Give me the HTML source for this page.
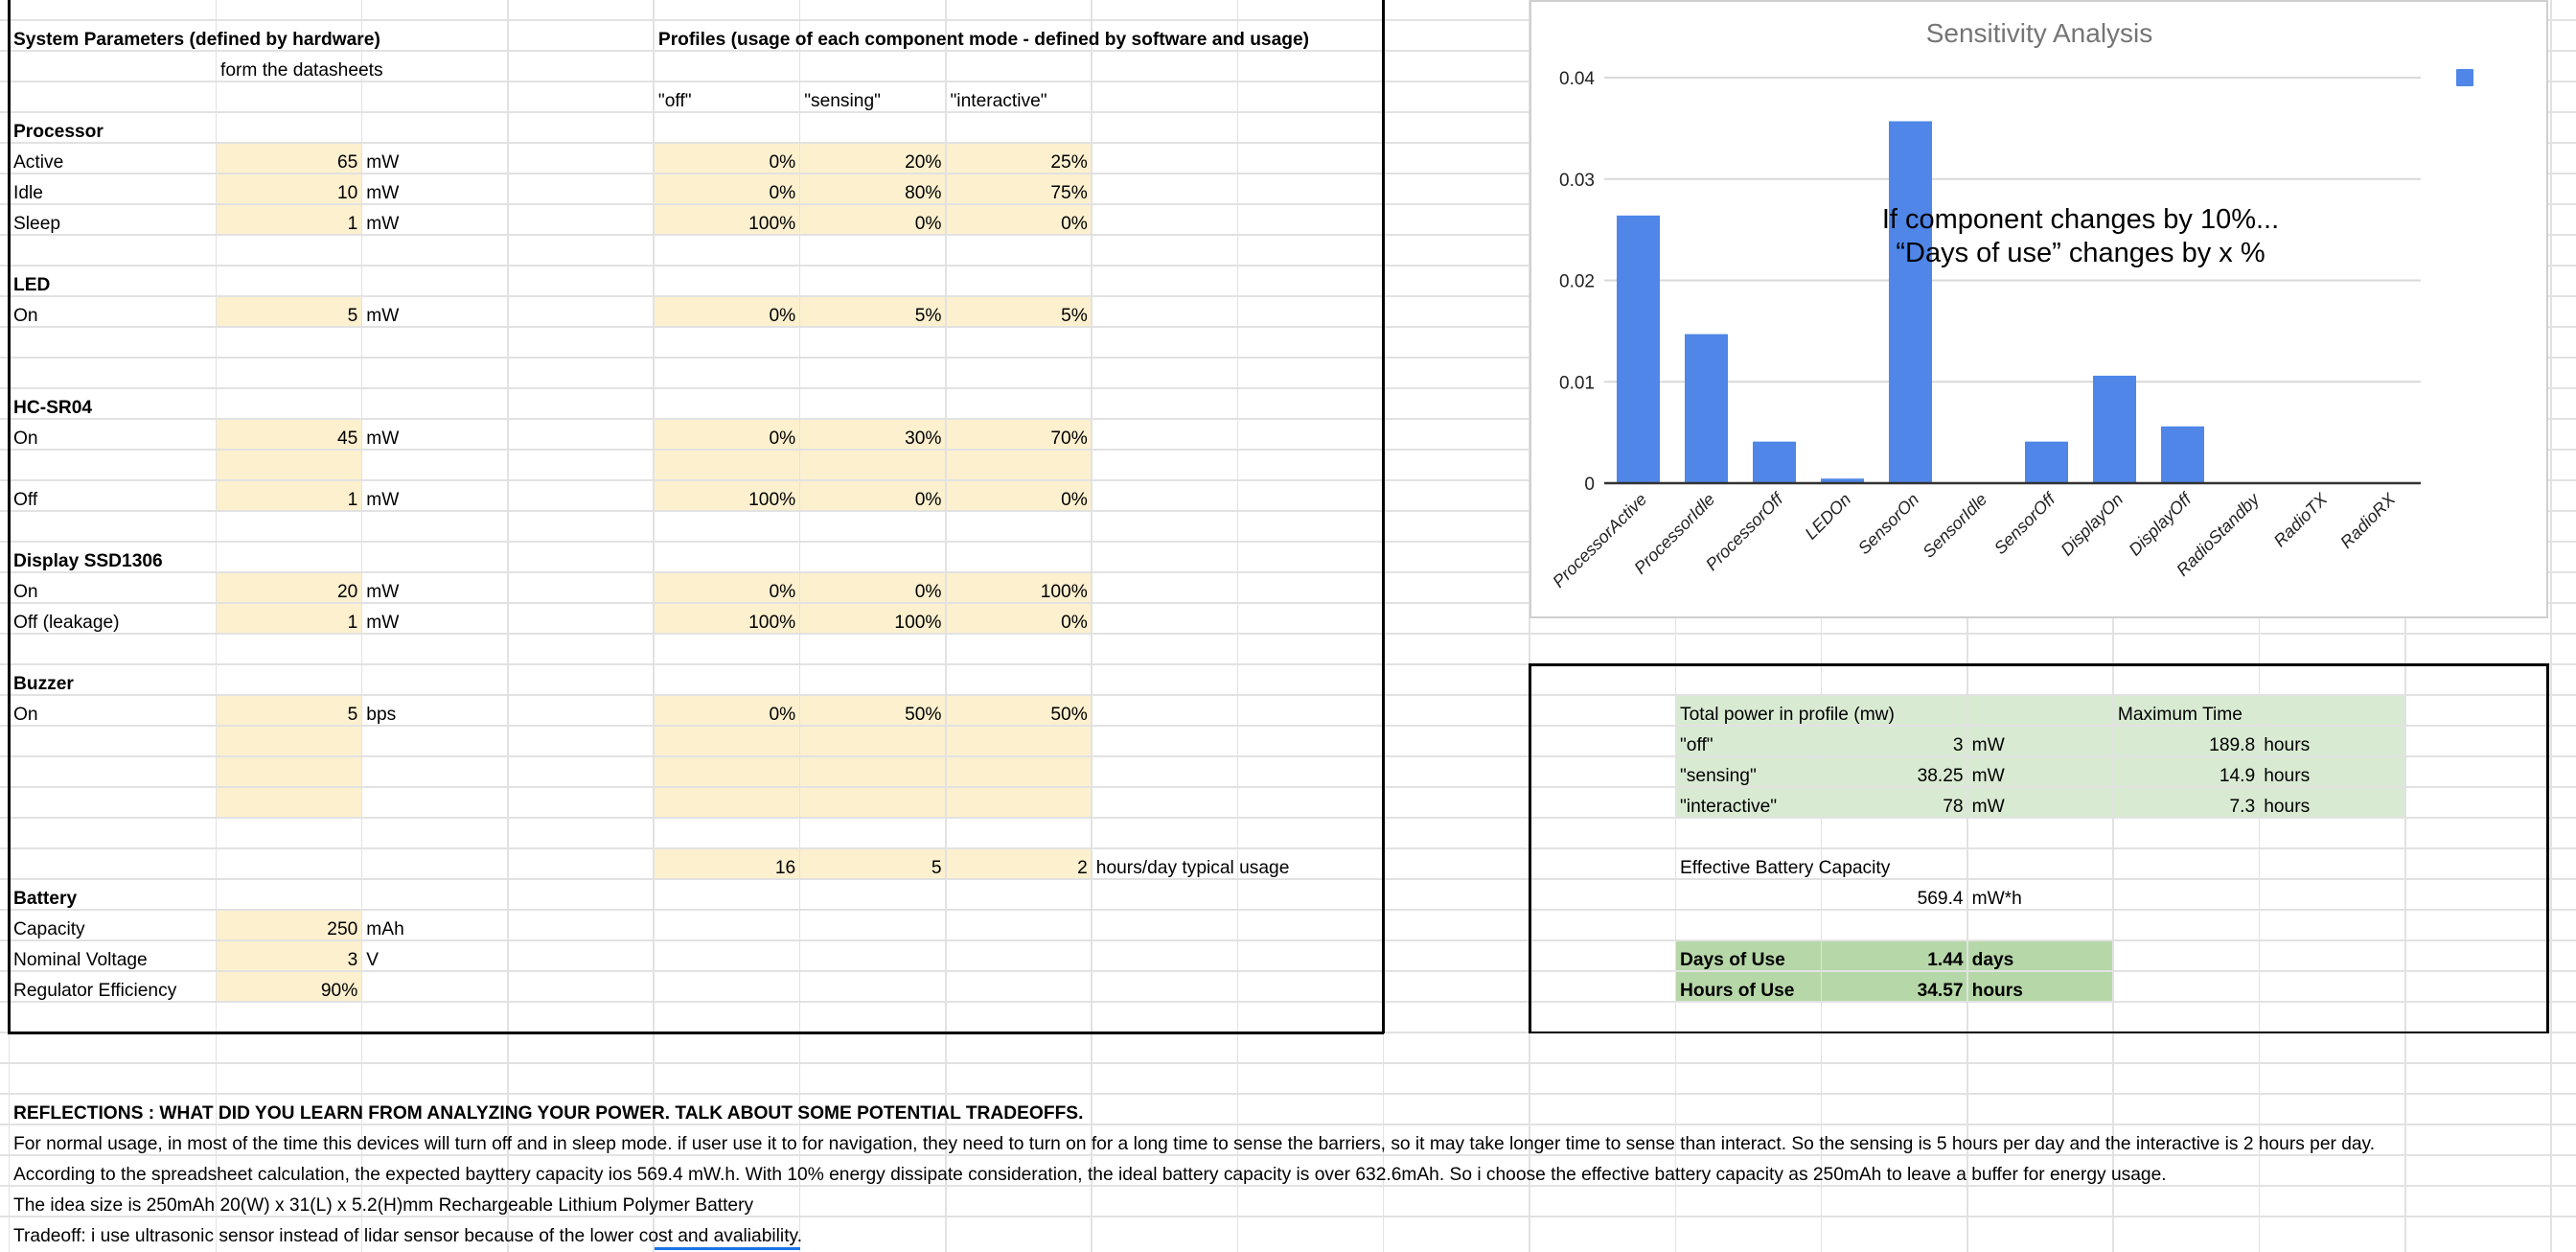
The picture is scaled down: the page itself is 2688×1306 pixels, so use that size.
<!DOCTYPE html>
<html><head><meta charset="utf-8">
<style>
html,body{margin:0;padding:0;background:#fff;}
body{width:2688px;height:1306px;position:relative;overflow:hidden;font-family:"Liberation Sans",Arial,sans-serif;}
.ln{position:absolute;background:#e2e2e2;}
.fill{position:absolute;}
.c{position:absolute;height:32px;line-height:32px;font-size:19.2px;color:#000;white-space:nowrap;padding-top:5px;box-sizing:border-box;}
.b{font-weight:bold;}
</style></head>
<body>
<div id="sheet"></div>
<svg id="chart" style="position:absolute;left:1596px;top:0;" width="1063" height="646" viewBox="1596 0 1063 646"></svg>
<script>
const CW=152.3;
function colX(c){return c===0?9:225+CW*(c-1);}
function colW(c){return c===0?216:CW;}
function rowY(r){return 20.7+32*r;}
const sheet=document.getElementById('sheet');
function div(cls,l,t,w,h,bg,name){
  const d=document.createElement('div');
  d.className=cls;
  d.style.left=l+'px';d.style.top=t+'px';
  if(w!=null)d.style.width=w+'px';
  if(h!=null)d.style.height=h+'px';
  if(bg)d.style.background=bg;
  
  
  sheet.appendChild(d);return d;
}
const yellowB=[4,5,6,9,13,14,15,18,19,22,23,24,25,29,30,31];
const yellowP=[4,5,6,9,13,14,15,18,19,22,23,24,25,27];
yellowB.forEach(r=>div('fill',colX(1),rowY(r),CW,32,'#fcf0cf','input-cell-fill'));
yellowP.forEach(r=>div('fill',colX(4),rowY(r),CW*3,32,'#fcf0cf','profile-cell-fill'));
[22,23,24,25].forEach(r=>div('fill',colX(11),rowY(r),CW*5,32,'#d9ead3','result-cell-fill'));
[30,31].forEach(r=>div('fill',colX(11),rowY(r),CW*3,32,'#b6d7a8','summary-cell-fill'));
for(let r=-1;r<40;r++){div('ln',0,rowY(r)-1,2688,2,null,'row-line');}
for(let c=0;c<19;c++){div('ln',colX(c)-0.5,0,1.5,1306,null,'column-line');}
div('fill',8,0,2.5,1078,'#000','box-left-border');
div('fill',1442,0,2.5,1078,'#000','box-right-border');
div('fill',8,1076,1436,2.5,'#000','box-bottom-border');
div('fill',1595,692,2.5,386,'#000','results-box-left');
div('fill',2657,692,2.5,386,'#000','results-box-right');
div('fill',1595,692,1064,2.5,'#000','results-box-top');
div('fill',1595,1075.5,1064,2.5,'#000','results-box-bottom');
div('fill',683,1301,152,3,'#1a73e8','selected-cell');
function cell(col,row,text,align,bold,name){
  const d=div('c'+(bold?' b':''),colX(col),rowY(row),colW(col),null,null,name);
  if(align==='r'){d.style.textAlign='right';d.style.paddingRight='4px';}
  else{d.style.paddingLeft='5px';}
  d.textContent=text;
}
cell(0,0,'System Parameters (defined by hardware)','l',1,'system-parameters-header');
cell(4,0,'Profiles (usage of each component mode - defined by software and usage)','l',1,'profiles-header');
cell(1,1,'form the datasheets','l',0,'datasheet-note');
cell(4,2,'"off"','l',0,'profile-off-header');
cell(5,2,'"sensing"','l',0,'profile-sensing-header');
cell(6,2,'"interactive"','l',0,'profile-interactive-header');
const rows=[
 [3,'Processor',1],[4,'Active',0,'65','mW',['0%','20%','25%']],[5,'Idle',0,'10','mW',['0%','80%','75%']],
 [6,'Sleep',0,'1','mW',['100%','0%','0%']],[8,'LED',1],[9,'On',0,'5','mW',['0%','5%','5%']],
 [12,'HC-SR04',1],[13,'On',0,'45','mW',['0%','30%','70%']],[15,'Off',0,'1','mW',['100%','0%','0%']],
 [17,'Display SSD1306',1],[18,'On',0,'20','mW',['0%','0%','100%']],[19,'Off (leakage)',0,'1','mW',['100%','100%','0%']],
 [21,'Buzzer',1],[22,'On',0,'5','bps',['0%','50%','50%']],
 [28,'Battery',1],[29,'Capacity',0,'250','mAh'],[30,'Nominal Voltage',0,'3','V'],[31,'Regulator Efficiency',0,'90%','']
];
rows.forEach(x=>{
  cell(0,x[0],x[1],'l',x[2],'row-label');
  if(x[3]!=null){cell(1,x[0],x[3],'r',0,'param-value');cell(2,x[0],x[4],'l',0,'param-unit');}
  if(x[5]){x[5].forEach((v,i)=>cell(4+i,x[0],v,'r',0,'profile-percent'));}
});
cell(4,27,'16','r',0,'hours-off');cell(5,27,'5','r',0,'hours-sensing');cell(6,27,'2','r',0,'hours-interactive');
cell(7,27,'hours/day typical usage','l',0,'hours-note');
cell(11,22,'Total power in profile (mw)','l',0,'total-power-header');
cell(14,22,'Maximum Time','l',0,'max-time-header');
[[23,'"off"','3','189.8'],[24,'"sensing"','38.25','14.9'],[25,'"interactive"','78','7.3']].forEach(x=>{
  cell(11,x[0],x[1],'l',0,'profile-name');cell(12,x[0],x[2],'r',0,'profile-power');cell(13,x[0],'mW','l',0,'power-unit');
  cell(14,x[0],x[3],'r',0,'max-time');cell(15,x[0],'hours','l',0,'time-unit');
});
cell(11,27,'Effective Battery Capacity','l',0,'effective-capacity-label');
cell(12,28,'569.4','r',0,'effective-capacity-value');cell(13,28,'mW*h','l',0,'capacity-unit');
cell(11,30,'Days of Use','l',1,'days-of-use-label');cell(12,30,'1.44','r',1,'days-of-use-value');cell(13,30,'days','l',1,'days-unit');
cell(11,31,'Hours of Use','l',1,'hours-of-use-label');cell(12,31,'34.57','r',1,'hours-of-use-value');cell(13,31,'hours','l',1,'hours-unit');
cell(0,35,'REFLECTIONS : WHAT DID YOU LEARN FROM ANALYZING YOUR POWER.  TALK ABOUT SOME POTENTIAL TRADEOFFS.','l',1,'reflections-header');
cell(0,36,'For normal usage, in most of the time this devices will turn off and in sleep mode. if user use it to for navigation, they need to turn on for a long time to sense the barriers, so it may take longer time to sense than interact. So the sensing is 5 hours per day and the interactive is 2 hours per day.','l',0,'reflection-line');
cell(0,37,'According to the spreadsheet calculation, the expected bayttery capacity ios 569.4 mW.h. With 10% energy dissipate consideration, the ideal battery capacity is over 632.6mAh. So i choose the effective battery capacity as 250mAh to leave a buffer for energy usage.','l',0,'reflection-line');
cell(0,38,'The idea size is 250mAh 20(W) x 31(L) x 5.2(H)mm Rechargeable Lithium Polymer Battery','l',0,'reflection-line');
cell(0,39,'Tradeoff: i use ultrasonic sensor instead of lidar sensor because of the lower cost and avaliability.','l',0,'reflection-line');
</script>
<script>
const categories=['ProcessorActive','ProcessorIdle','ProcessorOff','LEDOn','SensorOn','SensorIdle','SensorOff','DisplayOn','DisplayOff','RadioStandby','RadioTX','RadioRX'];
const values=[0.0264,0.0147,0.0041,0.00045,0.0357,0,0.0041,0.0106,0.0056,0,0,0];
const yTicks=[0,0.01,0.02,0.03,0.04];
const yTickLabels=['0','0.01','0.02','0.03','0.04'];
const NS='http://www.w3.org/2000/svg';
const svg=document.getElementById('chart');
const PL=1674,PR=2526,Y0=504,Y4=81;
function yS(v){return Y0-(v/0.04)*(Y0-Y4);}
function xS(i){return PL+(PR-PL)/categories.length*(i+0.5);}
function el(tag,attrs){const e=document.createElementNS(NS,tag);for(const k in attrs)e.setAttribute(k,attrs[k]);svg.appendChild(e);return e;}
let e=el('rect',{x:1597,y:1,width:1061,height:643,fill:'#fff',stroke:'#cfcfcf','stroke-width':2});


e=el('text',{x:2128,y:44,'text-anchor':'middle','font-size':28,fill:'#757575','font-family':'Liberation Sans, sans-serif'});
e.textContent='Sensitivity Analysis';


yTicks.forEach((t,i)=>{
  if(i>0){const g=el('line',{x1:PL,x2:PR,y1:yS(t),y2:yS(t),stroke:'#d9d9d9','stroke-width':2});
  
  }
  const l=el('text',{x:1664,y:yS(t)+7,'text-anchor':'end','font-size':19,fill:'#222','font-family':'Liberation Sans, sans-serif'});
  l.textContent=yTickLabels[i];
  
  
});
const bw=45;
values.forEach((v,i)=>{
  if(v>0){const b=el('rect',{x:xS(i)-bw/2,y:yS(v),width:bw,height:Y0-yS(v),fill:'#4f86e8'});
  
  }
  const t=el('text',{x:xS(i)+10,y:Y0+18,'text-anchor':'end','font-size':18,fill:'#222','font-style':'italic','font-family':'Liberation Sans, sans-serif',transform:'rotate(-45 '+(xS(i)+10)+' '+(Y0+18)+')'});
  t.textContent=categories[i];
  
  
});
e=el('line',{x1:PL,x2:PR,y1:Y0,y2:Y0,stroke:'#333','stroke-width':2.5});


e=el('rect',{x:2563,y:72,width:18,height:18,fill:'#4f86e8',rx:1});


e=el('text',{x:2171,y:238,'text-anchor':'middle','font-size':29,fill:'#000','font-family':'Liberation Sans, sans-serif'});
e.textContent='If component changes by 10%...';


e=el('text',{x:2171,y:273,'text-anchor':'middle','font-size':29,fill:'#000','font-family':'Liberation Sans, sans-serif'});
e.textContent='\u201CDays of use\u201D changes by x %';


</script>
</body></html>
